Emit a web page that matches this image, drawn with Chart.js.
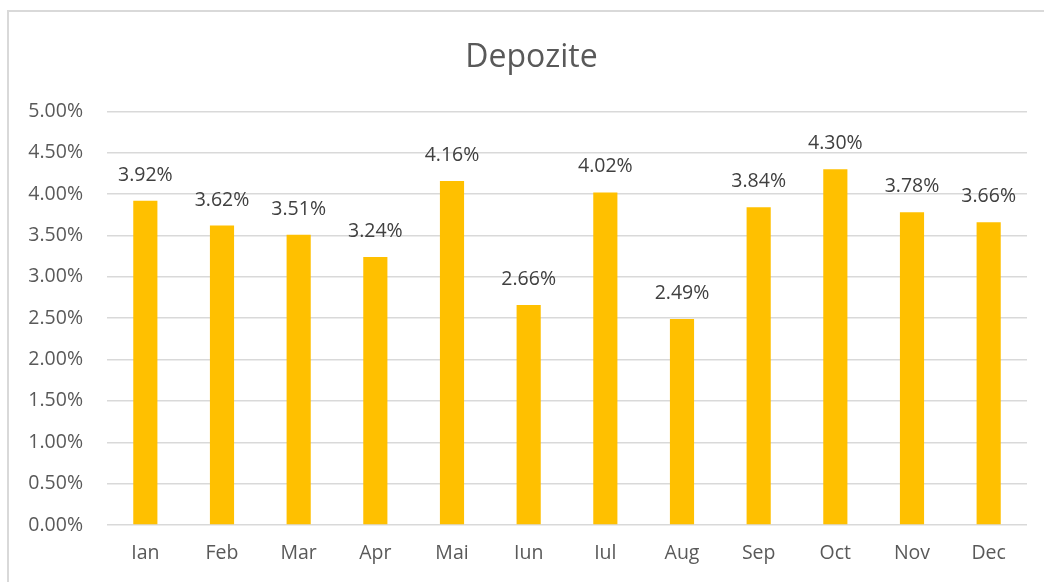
<!DOCTYPE html>
<html lang="ro">
<head>
    <meta charset="UTF-8">
    <title>Depozite</title>
    <script src="https://cdn.jsdelivr.net/npm/chart.js"></script>
    <style>
        html, body { margin: 0; padding: 0; background: #fff; overflow: hidden; }
        #wrap { position: relative; width: 1044px; height: 582px; }
        #frame {
            position: absolute; left: 7px; top: 10px; width: 1100px; height: 700px;
            border: 2px solid #d9d9d9; box-sizing: border-box;
        }
        canvas { position: absolute; left: 0; top: 0; }
    </style>
</head>
<body>
    <div id="wrap">
        <div id="frame"></div>
        <canvas id="chart" width="1044" height="582"></canvas>
    </div>

    <script>
        const months = ['Ian', 'Feb', 'Mar', 'Apr', 'Mai', 'Iun', 'Iul', 'Aug', 'Sep', 'Oct', 'Nov', 'Dec'];
        const depozite = [3.92, 3.62, 3.51, 3.24, 4.16, 2.66, 4.02, 2.49, 3.84, 4.30, 3.78, 3.66];
        const yMin = 0, yMax = 5, yStep = 0.5;

        const fontFamily = '"Open Sans", "Liberation Sans", sans-serif';

        // etichete deasupra barelor
        const valueLabels = {
            id: 'valueLabels',
            afterDatasetsDraw(chart) {
                const ctx = chart.ctx;
                const meta = chart.getDatasetMeta(0);
                ctx.save();
                ctx.font = '19.5px ' + fontFamily;
                ctx.fillStyle = '#404040';
                ctx.textAlign = 'center';
                ctx.textBaseline = 'alphabetic';
                meta.data.forEach((bar, i) => {
                    ctx.fillText(depozite[i].toFixed(2) + '%', bar.x, bar.y - 20);
                });
                ctx.restore();
            }
        };

        // titlul e centrat pe tot cadrul, nu doar pe zona graficului
        const titleShift = {
            id: 'titleShift',
            afterLayout(chart) {
                if (chart.titleBlock) chart.titleBlock.left = 36;
            }
        };

        new Chart(document.getElementById('chart').getContext('2d'), {
            type: 'bar',
            data: {
                labels: months,
                datasets: [{
                    label: 'Depozite',
                    data: depozite,
                    backgroundColor: '#FFC000',
                    borderWidth: 0,
                    categoryPercentage: 1,
                    barPercentage: 0.315
                }]
            },
            options: {
                responsive: false,
                animation: false,
                layout: { padding: { top: 0, right: 17, bottom: 0, left: 0 } },
                plugins: {
                    legend: { display: false },
                    tooltip: { enabled: false },
                    title: {
                        display: true,
                        text: 'Depozite',
                        color: '#595959',
                        font: { family: fontFamily, size: 32, weight: 'normal' },
                        padding: { top: 39, bottom: 34 }
                    }
                },
                scales: {
                    x: {
                        grid: { display: false, drawTicks: false },
                        border: { display: false },
                        ticks: {
                            color: '#595959',
                            font: { family: fontFamily, size: 19.5 },
                            padding: 17
                        },
                        afterFit(scale) { scale.height = 57; }
                    },
                    y: {
                        min: yMin,
                        max: yMax,
                        grid: { color: '#d9d9d9', lineWidth: 1.5, drawTicks: false },
                        border: { display: false },
                        ticks: {
                            stepSize: yStep,
                            color: '#595959',
                            font: { family: fontFamily, size: 19.5 },
                            padding: 24,
                            callback: v => v.toFixed(2) + '%'
                        },
                        afterFit(scale) { scale.width = 107; }
                    }
                }
            },
            plugins: [valueLabels, titleShift]
        });
    </script>
</body>
</html>
